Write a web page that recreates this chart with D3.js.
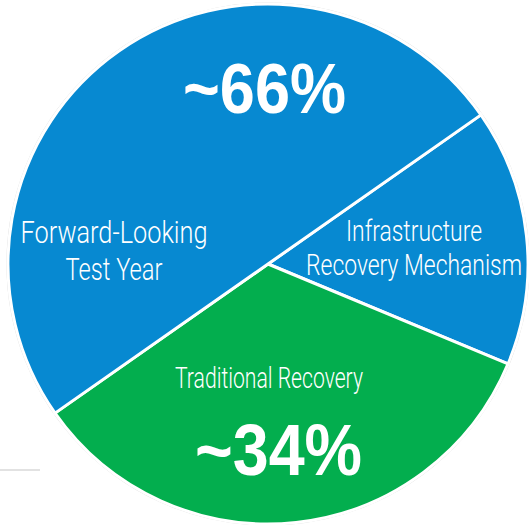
<!DOCTYPE html>
<html>
<head>
<meta charset="utf-8">
<script src="https://cdn.jsdelivr.net/npm/d3@7"></script>
<style>
  body { margin: 0; background: #fff; }
  svg { display: block; }
  text { font-family: "Liberation Sans", Arial, sans-serif; fill: #fff; }
  text.thin { font-family: Roboto, "Liberation Sans", sans-serif; font-weight: 300; }
</style>
</head>
<body>
<script>
// slices, clockwise from the upper right boundary
const categories = ["Infrastructure Recovery Mechanism", "Traditional Recovery", "Forward-Looking Test Year"];
const values = [16, 34, 50];
const groups = ["blue", "green", "blue"];
const totals = ["~66%", "~34%"];

const width = 529, height = 525;
const cx = 268, cy = 264, r = 260;

const color = d3.scaleOrdinal()
    .domain(["blue", "green"])
    .range(["#0789d1", "#03ae4e"]);

const svg = d3.select("body").append("svg")
    .attr("width", width)
    .attr("height", height);

// faint rule at the lower left
svg.append("line")
    .attr("x1", 0).attr("x2", 40)
    .attr("y1", 470).attr("y2", 470)
    .attr("stroke", "#e2e2e2")
    .attr("stroke-width", 2);

const g = svg.append("g").attr("transform", `translate(${cx},${cy})`);

// thin grey halo around the disc
g.append("circle")
    .attr("r", r + 1)
    .attr("fill", "none")
    .attr("stroke", "#d8d8d8")
    .attr("stroke-width", 1.2);

const start = 55 * Math.PI / 180;
const pie = d3.pie().sort(null)
    .startAngle(start)
    .endAngle(start + 2 * Math.PI);

const arcs = pie(values);
const arc = d3.arc().innerRadius(0).outerRadius(r);

g.selectAll("path")
    .data(arcs)
    .join("path")
    .attr("d", arc)
    .attr("fill", (d, i) => color(groups[i]))
    .attr("stroke", "#fff")
    .attr("stroke-width", 3)
    .attr("stroke-linejoin", "round");

// slice labels (condensed face faked with textLength)
const labelLines = [
  ["Infrastructure", "Recovery Mechanism"],
  ["Traditional Recovery"],
  ["Forward-Looking", "Test Year"]
];
const labelPos = [
  {x: 146, y: [-23, 11], w: [136, 216], size: 29.5},
  {x: 1, y: [124], w: [188], size: 29},
  {x: -154, y: [-21, 16], w: [187, 97], size: 31.5}
];

arcs.forEach((d, i) => {
  const p = labelPos[i];
  labelLines[i].forEach((line, j) => {
    g.append("text")
        .attr("class", "thin")
        .attr("x", p.x)
        .attr("y", p.y[j])
        .attr("text-anchor", "middle")
        .attr("font-size", p.size)
        .attr("textLength", p.w[j])
        .attr("lengthAdjust", "spacingAndGlyphs")
        .text(line);
  });
});

// big totals
const totalPos = [{x: -3.5, y: -151, w: 163, size: 70}, {x: 10.5, y: 211, w: 167, size: 72}];
totals.forEach((label, i) => {
  const p = totalPos[i];
  g.append("text")
      .attr("x", p.x)
      .attr("y", p.y)
      .attr("text-anchor", "middle")
      .attr("font-size", p.size)
      .attr("font-weight", "bold")
      .attr("textLength", p.w)
      .attr("lengthAdjust", "spacingAndGlyphs")
      .text(label);
});
</script>
</body>
</html>
